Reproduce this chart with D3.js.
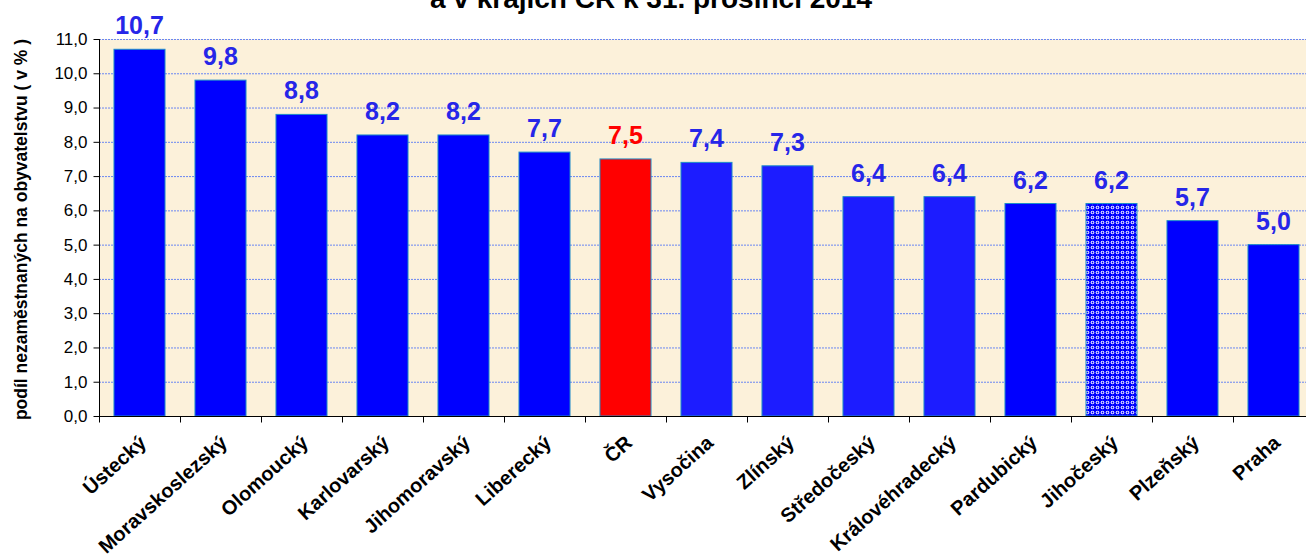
<!DOCTYPE html>
<html>
<head>
<meta charset="utf-8">
<script src="https://cdn.jsdelivr.net/npm/d3@7"></script>
<style>
  body { margin: 0; background: #ffffff; overflow: hidden; }
  svg { display: block; font-family: "Liberation Sans", Arial, sans-serif; }
</style>
</head>
<body>
<main></main>
<script>
// data
const kraje = ['Ústecký', 'Moravskoslezský', 'Olomoucký', 'Karlovarský', 'Jihomoravský', 'Liberecký', 'ČR',
  'Vysočina', 'Zlínský', 'Středočeský', 'Královéhradecký', 'Pardubický', 'Jihočeský', 'Plzeňský', 'Praha'];
const podil = [10.7, 9.8, 8.8, 8.2, 8.2, 7.7, 7.5, 7.4, 7.3, 6.4, 6.4, 6.2, 6.2, 5.7, 5.0];
const yTicks = [0, 1, 2, 3, 4, 5, 6, 7, 8, 9, 10, 11];
const titulek = 'a v krajích ČR k 31. prosinci 2014';
const osaY = 'podíl nezaměstnaných na obyvatelstvu ( v % )';

const w = 1306, h = 560;
const mLeft = 99, mTop = 39, mBottom = 416;
const mRight = 1314;

const svg = d3.select('main').append('svg')
  .attr('width', w)
  .attr('height', h);

// vzorek pro Jihočeský
const defs = svg.append('defs');
const pat = defs.append('pattern')
  .attr('id', 'tecky')
  .attr('patternUnits', 'userSpaceOnUse')
  .attr('width', 5)
  .attr('height', 5);
pat.append('rect').attr('width', 5).attr('height', 5).attr('fill', '#0000ff');
pat.append('circle').attr('cx', 2.5).attr('cy', 2.5).attr('r', 1.8).attr('fill', '#ffffff');
pat.append('circle').attr('cx', 2.5).attr('cy', 2.5).attr('r', 0.9).attr('fill', '#0000ff');

const x = d3.scaleBand()
  .domain(kraje)
  .range([mLeft, mRight])
  .paddingInner(0.37)
  .paddingOuter(0.185);

const y = d3.scaleLinear()
  .domain([0, 11])
  .range([mBottom, mTop]);

// pozadí
svg.append('rect')
  .attr('x', mLeft)
  .attr('y', mTop)
  .attr('width', mRight - mLeft)
  .attr('height', mBottom - mTop)
  .attr('fill', '#fcf1da');

// mřížka
svg.append('g')
  .selectAll('line')
  .data(yTicks.filter(d => d > 0))
  .enter()
  .append('line')
  .attr('x1', mLeft)
  .attr('x2', mRight)
  .attr('y1', d => y(d) + 0.5)
  .attr('y2', d => y(d) + 0.5)
  .attr('stroke', '#6a86f2')
  .attr('stroke-width', 1)
  .attr('stroke-dasharray', '2,1');

const barva = (d) => {
  if (d === 'ČR') return '#ff0000';
  if (d === 'Jihočeský') return 'url(#tecky)';
  if (['Vysočina', 'Zlínský', 'Středočeský', 'Královéhradecký'].includes(d)) return '#1c1cff';
  return '#0000ff';
};

// sloupce
svg.append('g')
  .selectAll('rect')
  .data(kraje)
  .enter()
  .append('rect')
  .attr('x', d => x(d))
  .attr('y', (d, i) => y(podil[i]))
  .attr('width', x.bandwidth())
  .attr('height', (d, i) => mBottom - y(podil[i]))
  .attr('fill', barva)
  .attr('stroke', '#1e8cc8')
  .attr('stroke-width', 1);

// hodnoty
svg.append('g')
  .selectAll('text')
  .data(kraje)
  .enter()
  .append('text')
  .attr('x', d => x(d) + x.bandwidth() / 2)
  .attr('y', (d, i) => y(podil[i]) - 15)
  .attr('text-anchor', 'middle')
  .attr('font-size', '25px')
  .attr('font-weight', 'bold')
  .attr('fill', d => d === 'ČR' ? '#ff0000' : '#2626e8')
  .text((d, i) => d3.format('.1f')(podil[i]).replace('.', ','));

// osa Y
const osa = svg.append('g')
  .attr('transform', `translate(${mLeft + 0.5},0)`)
  .call(d3.axisLeft(y)
    .tickValues(yTicks)
    .tickSize(6)
    .tickFormat(d => d3.format('.1f')(d).replace('.', ',')));
osa.select('.domain').attr('stroke', '#000').attr('d', `M0,${mTop}V${mBottom + 0.5}`);
osa.selectAll('.tick line').attr('stroke', '#000');
osa.selectAll('.tick text')
  .attr('font-size', '17px')
  .attr('font-family', '"Liberation Sans", Arial, sans-serif')
  .attr('fill', '#000')
  .attr('x', -12);

// osa X
const osaX = svg.append('g')
  .attr('transform', `translate(0,${mBottom + 0.5})`);
osaX.append('line')
  .attr('x1', mLeft)
  .attr('x2', mRight)
  .attr('stroke', '#000');
osaX.selectAll('line.tik')
  .data(kraje)
  .enter()
  .append('line')
  .attr('class', 'tik')
  .attr('x1', d => x(d) - x.step() * 0.185 + 0.5)
  .attr('x2', d => x(d) - x.step() * 0.185 + 0.5)
  .attr('y1', 0)
  .attr('y2', 6)
  .attr('stroke', '#000');
osaX.selectAll('text')
  .data(kraje)
  .enter()
  .append('text')
  .attr('transform', d => `translate(${x(d) + x.bandwidth() / 2 + 8},28) rotate(-42)`)
  .attr('text-anchor', 'end')
  .attr('font-size', '20px')
  .attr('font-weight', 'bold')
  .attr('fill', '#000')
  .text(d => d);

// popisek osy Y
svg.append('text')
  .attr('transform', `translate(27,${(mTop + mBottom) / 2 + 2}) rotate(-90)`)
  .attr('text-anchor', 'middle')
  .attr('font-size', '17.5px')
  .attr('font-weight', 'bold')
  .text(osaY);

// titulek (horní řádek je mimo obraz)
svg.append('text')
  .attr('x', 651)
  .attr('y', 8)
  .attr('text-anchor', 'middle')
  .attr('font-size', '28px')
  .attr('font-weight', 'bold')
  .text(titulek);
</script>
</body>
</html>
